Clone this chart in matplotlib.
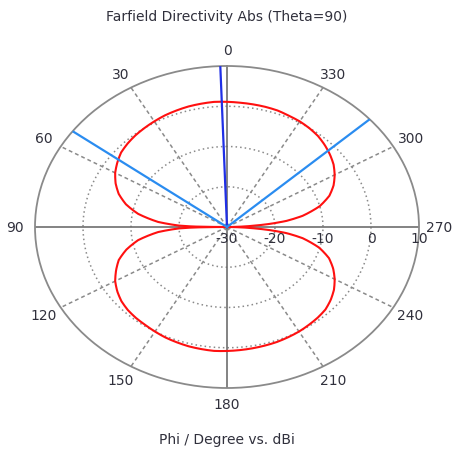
import numpy as np
import matplotlib
matplotlib.use("Agg")
import matplotlib.pyplot as plt
from matplotlib.path import Path
from matplotlib.patches import PathPatch

# Farfield cut (Theta = 90): phi in degrees, directivity in dBi
phi_deg = [0, 5, 10, 15, 20, 25, 30, 35, 40, 45, 50, 55, 60, 65, 70, 75, 80, 85, 88, 89, 90,
           91, 92, 95, 100, 105, 110, 115, 120, 125, 130, 135, 140, 145, 150, 155, 160, 165, 170, 175, 180,
           185, 190, 195, 200, 205, 210, 215, 220, 225, 230, 235, 240, 245, 250, 255, 260, 263, 265, 267, 270,
           273, 275, 277, 280, 285, 290, 295, 300, 305, 310, 315, 320, 325, 330, 335, 340, 345, 350, 355, 360]
directivity_dbi = [1.1, 1.2, 1.1, 1.0, 0.8, 0.6, 0.3, 0.0, -0.3, -0.7, -1.2, -2.1, -3.1, -4.4, -6.0, -8.2, -11.2, -15.6, -20.0, -23.0, -30.0,
                   -23.0, -20.0, -15.6, -11.2, -8.3, -6.0, -4.5, -3.1, -2.1, -1.3, -0.8, -0.5, -0.3, 0.0, 0.3, 0.5, 0.7, 0.8, 0.9, 0.8,
                   0.7, 0.6, 0.5, 0.4, 0.2, 0.0, -0.3, -0.6, -1.0, -1.8, -2.8, -4.1, -5.6, -7.4, -10.1, -14.0, -17.5, -21.0, -25.0, -30.0,
                   -25.0, -21.0, -17.5, -14.0, -10.0, -7.3, -5.5, -4.1, -2.9, -2.0, -1.2, -0.5, -0.05, 0.3, 0.5, 0.8, 0.9, 0.95, 1.0, 1.1]

# Main lobe direction and 3 dB beam edges (degrees)
main_lobe_deg = 2.0
beam_edges_deg = [53.5, 312.0]

# Radial scale (dBi) and angular labels
r_min, r_max = -30, 10
ring_values = [-20, -10, 0]
radial_labels = [-30, -20, -10, 0, 10]
angle_labels = [0, 30, 60, 90, 120, 150, 180, 210, 240, 270, 300, 330]

grid_col = "#8a8a8a"
axis_col = "#6e6e6e"
text_col = "#30303c"
fs = 10

fig = plt.figure(figsize=(4.53, 4.52), dpi=100)
ax = fig.add_axes([35 / 453, 63 / 452, 384 / 453, 322 / 452], projection="polar")
ax.set_aspect("auto")
ax.set_theta_zero_location("N")
ax.set_theta_direction(1)
ax.set_ylim(r_min, r_max)
ax.set_xticks([])
ax.set_yticks([])
ax.grid(False)
ax.spines["polar"].set_color(grid_col)
ax.spines["polar"].set_linewidth(1.3)

# dotted rings
t_full = np.linspace(0, 2 * np.pi, 721)
for rv in ring_values:
    ax.plot(t_full, np.full_like(t_full, rv), linestyle=(0, (1, 2)), color=grid_col, lw=1.1, zorder=1)

# dashed spokes and solid main axes
for a in angle_labels:
    th = np.deg2rad(a)
    if a % 90 == 0:
        ax.plot([th, th], [r_min, r_max], color=axis_col, lw=1.2, zorder=1.5)
    else:
        ax.plot([th, th], [r_min, r_max], linestyle=(0, (2.5, 2)), color=grid_col, lw=1.1, zorder=1)

# pattern, drawn as a path that follows the polar scale between samples
verts = np.column_stack([np.deg2rad(phi_deg), directivity_dbi])
pattern = PathPatch(Path(verts, _interpolation_steps=12), fill=False,
                    edgecolor="#ff1010", lw=1.5, zorder=3)
ax.add_patch(pattern)

# main lobe and beam-width markers
ax.plot([np.deg2rad(main_lobe_deg)] * 2, [r_min, r_max], color="#1f2fe6", lw=1.6, zorder=4)
for b in beam_edges_deg:
    ax.plot([np.deg2rad(b)] * 2, [r_min, r_max], color="#2a8cf0", lw=1.6, zorder=4)

# angle labels outside the ellipse
for a in angle_labels:
    th = np.deg2rad(a)
    dx = -np.sin(th)
    dy = np.cos(th)
    ax.annotate(str(a), xy=(th, r_max), xytext=(dx * 20, dy * 16),
                textcoords="offset pixels", ha="center", va="center",
                fontsize=fs, color=text_col, annotation_clip=False)

# radial labels along the 270 direction
for rv in radial_labels:
    ax.annotate(str(rv), xy=(np.deg2rad(270), rv), xytext=(0, -4),
                textcoords="offset pixels", ha="center", va="top",
                fontsize=fs, color=text_col, annotation_clip=False)

fig.text(0.5, 1 - 17 / 452, "Farfield Directivity Abs (Theta=90)", ha="center", va="center",
         fontsize=fs, color=text_col)
fig.text(0.5, 1 - 440 / 452, "Phi / Degree vs. dBi", ha="center", va="center",
         fontsize=fs, color=text_col)

fig.savefig("out.png", dpi=100, facecolor="white")
